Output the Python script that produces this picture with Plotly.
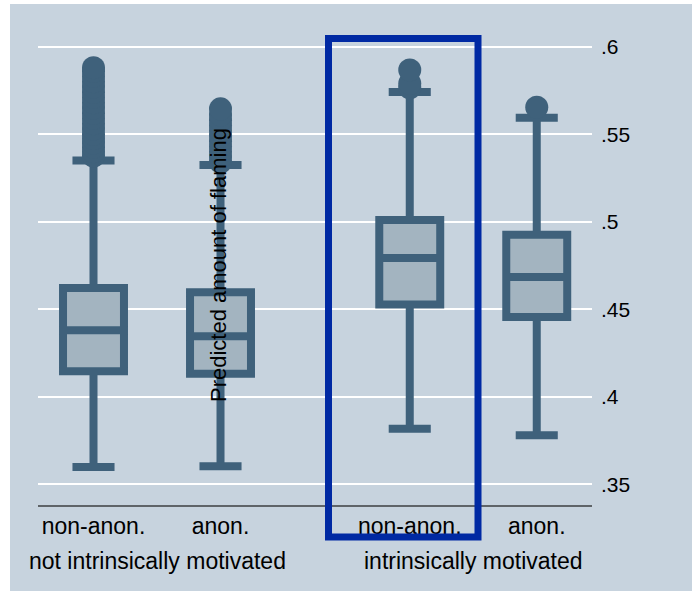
import plotly.graph_objects as go

# Groups and conditions
conditions = ["non-anon.", "anon.", "non-anon.", "anon."]
groups = ["not intrinsically motivated", "intrinsically motivated"]
positions = [1.0, 2.0, 3.49, 4.49]
group_centers = [1.5, 3.99]

# Box statistics of predicted flaming
lower_adj = [0.3598, 0.3603, 0.3817, 0.3779]
q1 = [0.4146, 0.4131, 0.4527, 0.4455]
median = [0.4379, 0.4345, 0.4793, 0.4684]
q3 = [0.4621, 0.4597, 0.5010, 0.4925]
upper_adj = [0.5350, 0.5324, 0.5741, 0.5594]

# Outside values per box
outliers = [
    [0.5375, 0.5400, 0.5425, 0.5450, 0.5475, 0.5500, 0.5530, 0.5560, 0.5590,
     0.5620, 0.5650, 0.5680, 0.5710, 0.5740, 0.5770, 0.5800, 0.5830, 0.5860, 0.5880],
    [0.5340, 0.5370, 0.5400, 0.5430, 0.5460, 0.5490, 0.5520, 0.5550, 0.5580,
     0.5610, 0.5645],
    [0.5765, 0.5790, 0.5867],
    [0.5654],
]

# Axis ticks
y_ticks = [0.35, 0.40, 0.45, 0.50, 0.55, 0.60]
y_tick_text = [".35", ".4", ".45", ".5", ".55", ".6"]

BG = "#c7d3de"
LINE = "#3f617b"
FILL = "#a3b4c0"
FRAME = "#0029a3"
FONT = "Liberation Sans, Arial, sans-serif"

fig = go.Figure()

fig.add_trace(go.Box(
    x=positions, q1=q1, median=median, q3=q3,
    lowerfence=lower_adj, upperfence=upper_adj,
    width=0.48, whiskerwidth=0.69,
    fillcolor=FILL, line=dict(color=LINE, width=8),
    boxpoints=False, hoverinfo="skip", showlegend=False,
))

ox, oy = [], []
for pos, vals in zip(positions, outliers):
    ox += [pos] * len(vals)
    oy += vals
fig.add_trace(go.Scatter(
    x=ox, y=oy, mode="markers",
    marker=dict(size=23, color=LINE, line=dict(width=0)),
    hoverinfo="skip", showlegend=False,
))

# Layout geometry (pixels)
W, H = 692, 591
ML, MR, MT, MB = 38, 100, 30, 86
PW, PH = W - ML - MR, H - MT - MB


def px_x(px):
    return (px - ML) / PW


def px_y(py):
    return (H - MB - py) / PH


shapes = [
    # graph region backdrop with a thin white edge on the left and top
    dict(type="rect", xref="paper", yref="paper",
         x0=px_x(10), x1=px_x(W + 5), y0=px_y(H + 5), y1=px_y(4),
         fillcolor=BG, line=dict(width=0), layer="below"),
    # highlight frame around the intrinsically motivated, non-anonymous box
    dict(type="rect", xref="paper", yref="paper",
         x0=px_x(328.5), x1=px_x(478), y0=px_y(537), y1=px_y(38.5),
         line=dict(color=FRAME, width=7), fillcolor="rgba(0,0,0,0)", layer="above"),
]

annotations = [
    dict(text="Predicted amount of flaming", textangle=-90,
         xref="paper", yref="paper", x=px_x(218), y=px_y(265),
         xanchor="center", yanchor="middle", showarrow=False,
         font=dict(family=FONT, size=22, color="black")),
]
for gx, g in zip(group_centers, groups):
    annotations.append(dict(
        text=g, xref="x", yref="paper", x=gx, y=px_y(546),
        xanchor="center", yanchor="top", showarrow=False,
        font=dict(family=FONT, size=23, color="black")))

fig.update_layout(
    width=W, height=H,
    margin=dict(l=ML, r=MR, t=MT, b=MB, pad=0),
    paper_bgcolor="white", plot_bgcolor="rgba(0,0,0,0)",
    shapes=shapes, annotations=annotations,
    font=dict(family=FONT, color="black"),
    xaxis=dict(
        range=[0.563, 4.925], tickvals=positions, ticktext=conditions,
        showgrid=False, zeroline=False, showline=True,
        linecolor="#5f6468", linewidth=1.5, ticks="",
        ticklabelstandoff=0,
        tickfont=dict(family=FONT, size=23, color="black"),
    ),
    yaxis=dict(
        range=[0.3381, 0.3381 + PH / 1750.0], side="right",
        tickvals=y_ticks, ticktext=y_tick_text,
        showgrid=True, gridcolor="white", gridwidth=1.6,
        zeroline=False, showline=False, ticks="",
        ticklabelstandoff=8,
        tickfont=dict(family=FONT, size=21, color="black"),
    ),
)

fig.write_html("out.html")
